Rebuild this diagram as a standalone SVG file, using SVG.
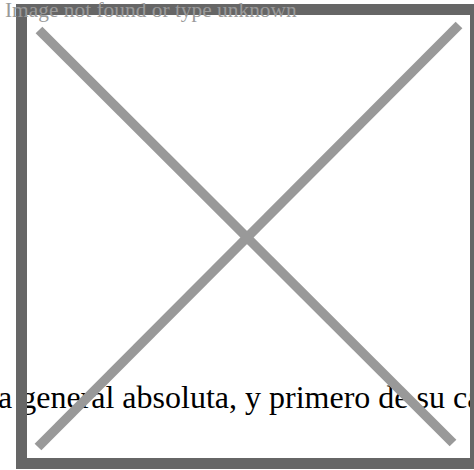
<svg xmlns="http://www.w3.org/2000/svg" width="474" height="470" viewBox="0 0 474 470">
<style>
.frame{fill:none;stroke:#666666;stroke-width:11}
.cross{stroke:#999999;stroke-width:9.5;stroke-linecap:butt}
.caption{font-family:"Liberation Serif","Times New Roman",serif;fill:#000000}
.alt{font-family:"Liberation Serif","Times New Roman",serif;fill:#9a9a9a}
</style>
<rect x="0" y="0" width="474" height="470" fill="#ffffff"/>
<text class="caption" x="-2" y="408" font-size="32">a general absoluta, y primero de su ca</text>
<rect class="frame" x="21.5" y="9.5" width="454" height="454"/>
<line class="cross" x1="39" y1="30" x2="453" y2="443"/>
<line class="cross" x1="459" y1="25" x2="38" y2="447"/>
<text class="alt" x="5" y="16.5" font-size="21.4">Image not found or type unknown</text>
</svg>
